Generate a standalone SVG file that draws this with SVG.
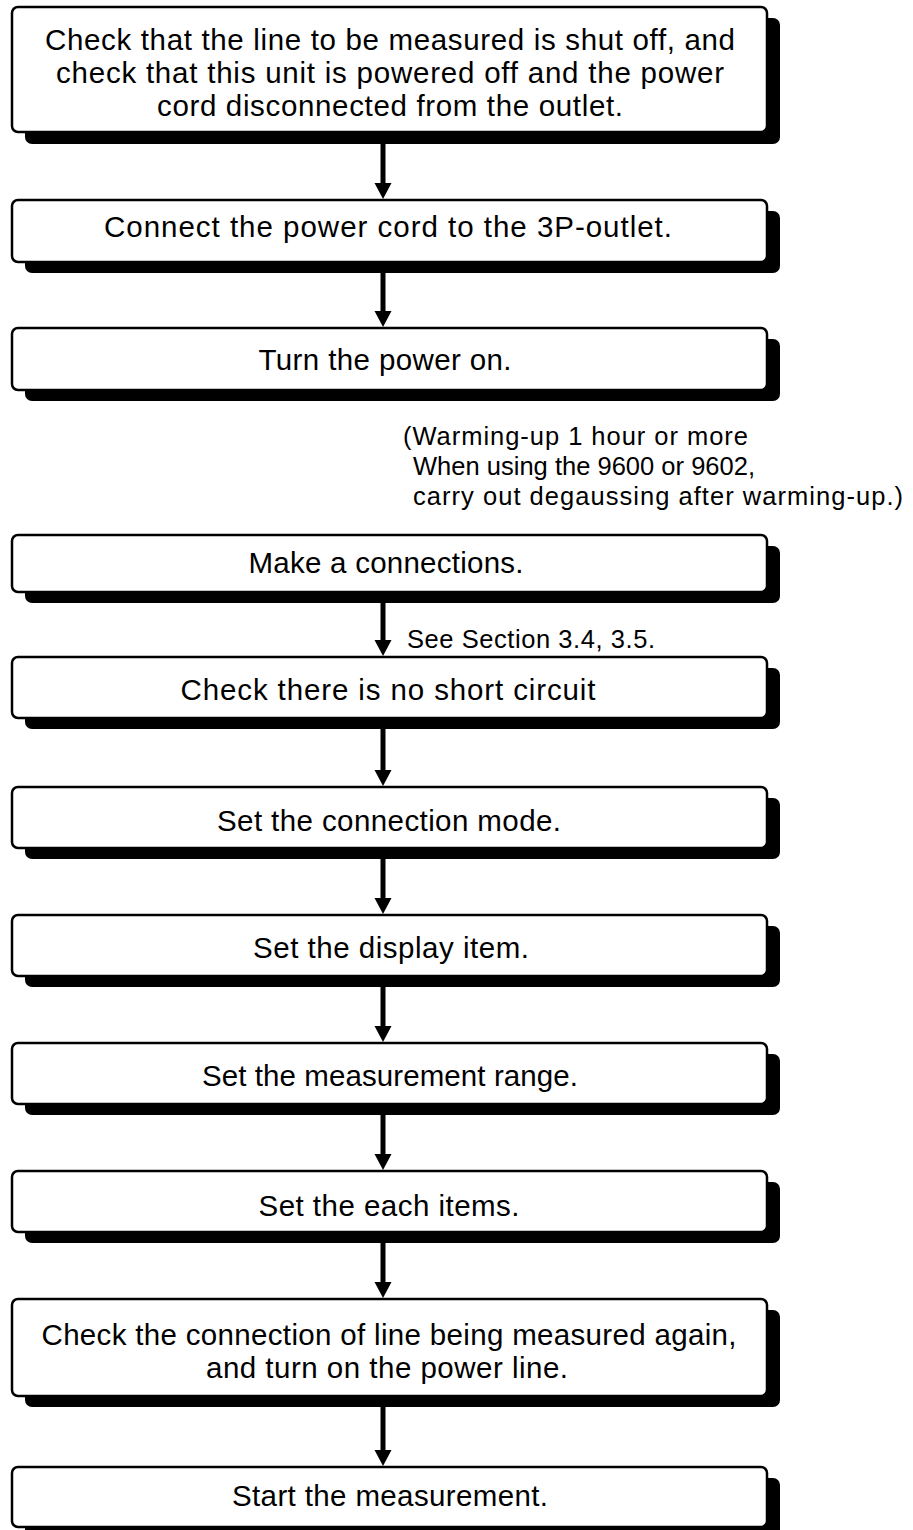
<svg xmlns="http://www.w3.org/2000/svg" width="913" height="1530" viewBox="0 0 913 1530">
<style>
.box{fill:#fff;stroke:#000;stroke-width:2.5}
.sh{fill:#000}
.t{font-family:"Liberation Sans",Arial,sans-serif;font-size:29.5px;fill:#000;text-anchor:middle}
.n{font-family:"Liberation Sans",Arial,sans-serif;font-size:25.5px;fill:#000}
.shaft{stroke:#000;stroke-width:5;fill:none}
.head{fill:#000}
</style>
<rect width="913" height="1530" fill="#fff"/>
<g id="connectors">
<line class="shaft" x1="383" y1="143" x2="383" y2="185"/><polygon class="head" points="374.5,183 391.5,183 383,199"/>
<line class="shaft" x1="383" y1="273" x2="383" y2="313"/><polygon class="head" points="374.5,311 391.5,311 383,327"/>
<line class="shaft" x1="383" y1="603" x2="383" y2="642"/><polygon class="head" points="374.5,640 391.5,640 383,656"/>
<line class="shaft" x1="383" y1="729" x2="383" y2="772"/><polygon class="head" points="374.5,770 391.5,770 383,786"/>
<line class="shaft" x1="383" y1="859" x2="383" y2="900"/><polygon class="head" points="374.5,898 391.5,898 383,914"/>
<line class="shaft" x1="383" y1="987" x2="383" y2="1028"/><polygon class="head" points="374.5,1026 391.5,1026 383,1042"/>
<line class="shaft" x1="383" y1="1115" x2="383" y2="1156"/><polygon class="head" points="374.5,1154 391.5,1154 383,1170"/>
<line class="shaft" x1="383" y1="1243" x2="383" y2="1284"/><polygon class="head" points="374.5,1282 391.5,1282 383,1298"/>
<line class="shaft" x1="383" y1="1407" x2="383" y2="1452"/><polygon class="head" points="374.5,1450 391.5,1450 383,1466"/>
<text class="n" x="407" y="648" textLength="248">See Section 3.4, 3.5.</text>
</g>
<g id="n1">
<rect class="sh" x="25" y="18" width="755" height="126" rx="7"/>
<rect class="box" x="12" y="7" width="755" height="125" rx="6"/>
<text class="t" x="390" y="50" textLength="690">Check that the line to be measured is shut off, and</text>
<text class="t" x="390" y="83" textLength="668">check that this unit is powered off and the power</text>
<text class="t" x="390" y="116" textLength="466">cord disconnected from the outlet.</text>
</g>
<g id="n2">
<rect class="sh" x="25" y="211" width="755" height="62" rx="7"/>
<rect class="box" x="12" y="200" width="755" height="62" rx="6"/>
<text class="t" x="388" y="237" textLength="568">Connect the power cord to the 3P-outlet.</text>
</g>
<g id="n3">
<rect class="sh" x="25" y="339" width="755" height="62" rx="7"/>
<rect class="box" x="12" y="328" width="755" height="62" rx="6"/>
<text class="t" x="385" y="370" textLength="253">Turn the power on.</text>
</g>
<g id="note">
<text class="n" x="403" y="445" textLength="345">(Warming-up 1 hour or more</text>
<text class="n" x="413" y="475" textLength="342">When using the 9600 or 9602,</text>
<text class="n" x="413" y="505" textLength="490">carry out degaussing after warming-up.)</text>
</g>
<g id="n4">
<rect class="sh" x="25" y="546" width="755" height="57" rx="7"/>
<rect class="box" x="12" y="535" width="755" height="57" rx="6"/>
<text class="t" x="386" y="573" textLength="275">Make a connections.</text>
</g>
<g id="n5">
<rect class="sh" x="25" y="668" width="755" height="61" rx="7"/>
<rect class="box" x="12" y="657" width="755" height="61" rx="6"/>
<text class="t" x="388" y="700" textLength="415">Check there is no short circuit</text>
</g>
<g id="n6">
<rect class="sh" x="25" y="798" width="755" height="61" rx="7"/>
<rect class="box" x="12" y="787" width="755" height="61" rx="6"/>
<text class="t" x="389" y="831" textLength="344">Set the connection mode.</text>
</g>
<g id="n7">
<rect class="sh" x="25" y="926" width="755" height="61" rx="7"/>
<rect class="box" x="12" y="915" width="755" height="61" rx="6"/>
<text class="t" x="391" y="958" textLength="276">Set the display item.</text>
</g>
<g id="n8">
<rect class="sh" x="25" y="1054" width="755" height="61" rx="7"/>
<rect class="box" x="12" y="1043" width="755" height="61" rx="6"/>
<text class="t" x="390" y="1086" textLength="376">Set the measurement range.</text>
</g>
<g id="n9">
<rect class="sh" x="25" y="1182" width="755" height="61" rx="7"/>
<rect class="box" x="12" y="1171" width="755" height="61" rx="6"/>
<text class="t" x="389" y="1216" textLength="261">Set the each items.</text>
</g>
<g id="n10">
<rect class="sh" x="25" y="1310" width="755" height="97" rx="7"/>
<rect class="box" x="12" y="1299" width="755" height="97" rx="6"/>
<text class="t" x="389" y="1345" textLength="695">Check the connection of line being measured again,</text>
<text class="t" x="387" y="1378" textLength="362">and turn on the power line.</text>
</g>
<g id="n11">
<rect class="sh" x="25" y="1478" width="755" height="60" rx="7"/>
<rect class="box" x="12" y="1467" width="755" height="60" rx="6"/>
<text class="t" x="390" y="1506" textLength="316">Start the measurement.</text>
</g>
</svg>
